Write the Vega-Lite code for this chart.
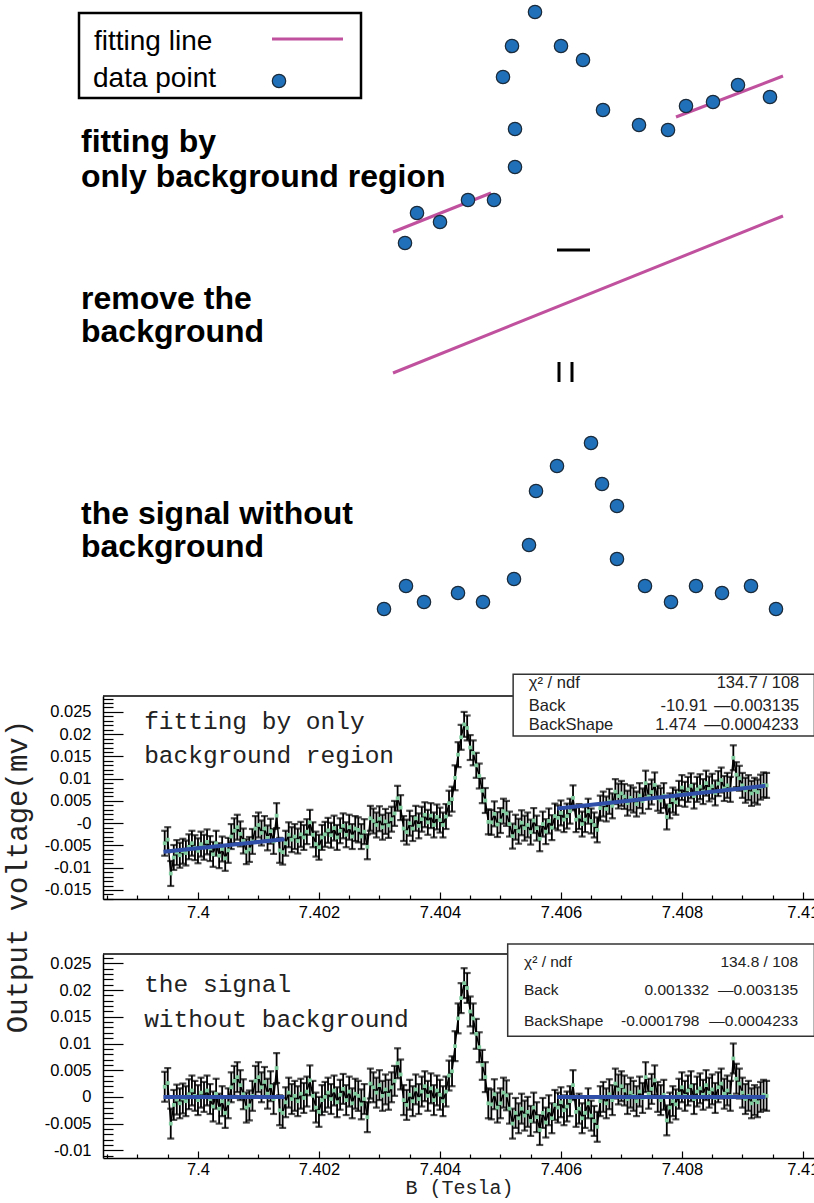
{
"$schema": "https://vega.github.io/schema/vega-lite/v6.json",
"background": "white",
"padding": {"left": 2, "top": 0, "right": 0, "bottom": 0},
"bounds": "flush",
"spacing": 55,
"config": {"view": {"stroke": null}, "axis": {"labelFont": "Liberation Sans", "labelFontSize": 16.5, "labelColor": "black", "labelOverlap": false, "labelFlush": false}},
"datasets": {
"legendBox": [{"x": 78, "y": 13, "x2": 360, "y2": 98}],
"pinkLines": [{"seg": "a", "x": 392, "y": 232}, {"seg": "a", "x": 490, "y": 193}, {"seg": "b", "x": 675, "y": 117}, {"seg": "b", "x": 782, "y": 76}, {"seg": "c", "x": 392, "y": 373}, {"seg": "c", "x": 782, "y": 216}, {"seg": "leg", "x": 271, "y": 39}, {"seg": "leg", "x": 342, "y": 39}],
"signs": [{"x": 556, "y": 250, "x2": 589, "y2": 250}, {"x": 558, "y": 362, "x2": 558, "y2": 382}, {"x": 571, "y": 362, "x2": 571, "y2": 382}],
"dots": [{"x": 278, "y": 81}, {"x": 404, "y": 243}, {"x": 416, "y": 213}, {"x": 439, "y": 222}, {"x": 467, "y": 200}, {"x": 493, "y": 200}, {"x": 514, "y": 167}, {"x": 514, "y": 129}, {"x": 502, "y": 77}, {"x": 511, "y": 46}, {"x": 534, "y": 12}, {"x": 560, "y": 46}, {"x": 582, "y": 60}, {"x": 602, "y": 110}, {"x": 638, "y": 125}, {"x": 667, "y": 130}, {"x": 685, "y": 106}, {"x": 712, "y": 102}, {"x": 737, "y": 85}, {"x": 769, "y": 97}, {"x": 383, "y": 609}, {"x": 405, "y": 586}, {"x": 423, "y": 602}, {"x": 457, "y": 593}, {"x": 482, "y": 602}, {"x": 513, "y": 579}, {"x": 528, "y": 545}, {"x": 535, "y": 491}, {"x": 556, "y": 466}, {"x": 590, "y": 443}, {"x": 601, "y": 484}, {"x": 616, "y": 506}, {"x": 616, "y": 559}, {"x": 644, "y": 586}, {"x": 670, "y": 602}, {"x": 695, "y": 586}, {"x": 721, "y": 593}, {"x": 750, "y": 586}, {"x": 775, "y": 609}],
"legendText": [{"x": 93, "y": 50, "t": "fitting line"}, {"x": 92, "y": 87, "t": "data point"}],
"labels": [{"x": 80, "y": 152, "t": "fitting by"}, {"x": 80, "y": 187, "t": "only background region"}, {"x": 80, "y": 309, "t": "remove the"}, {"x": 80, "y": 342, "t": "background"}, {"x": 80, "y": 524, "t": "the signal without"}, {"x": 80, "y": 557, "t": "background"}],
"scan": [
{"B":7.39945,"v1":-0.0045,"v2":0.0019,"e":0.0028},
{"B":7.3995,"v1":-0.0037,"v2":0.0026,"e":0.0028},
{"B":7.39955,"v1":-0.0113,"v2":-0.005,"e":0.0028},
{"B":7.3996,"v1":-0.0077,"v2":-0.0015,"e":0.0028},
{"B":7.39965,"v1":-0.0066,"v2":-0.0005,"e":0.0028},
{"B":7.3997,"v1":-0.0072,"v2":-0.0012,"e":0.0028},
{"B":7.39975,"v1":-0.0063,"v2":-0.0003,"e":0.0028},
{"B":7.3998,"v1":-0.0067,"v2":-0.0008,"e":0.0028},
{"B":7.39985,"v1":-0.0053,"v2":0.0005,"e":0.0028},
{"B":7.3999,"v1":-0.0045,"v2":0.0012,"e":0.0028},
{"B":7.39995,"v1":-0.0055,"v2":0.0002,"e":0.0028},
{"B":7.4,"v1":-0.0062,"v2":-0.0006,"e":0.0028},
{"B":7.40005,"v1":-0.0047,"v2":0.0008,"e":0.0028},
{"B":7.4001,"v1":-0.0054,"v2":0,"e":0.0028},
{"B":7.40015,"v1":-0.0042,"v2":0.0012,"e":0.0028},
{"B":7.4002,"v1":-0.0057,"v2":-0.0004,"e":0.0028},
{"B":7.40025,"v1":-0.007,"v2":-0.0018,"e":0.0028},
{"B":7.4003,"v1":-0.0045,"v2":0.0006,"e":0.0028},
{"B":7.40035,"v1":-0.0073,"v2":-0.0022,"e":0.0028},
{"B":7.4004,"v1":-0.0058,"v2":-0.0008,"e":0.0028},
{"B":7.40045,"v1":-0.0079,"v2":-0.003,"e":0.0028},
{"B":7.4005,"v1":-0.0061,"v2":-0.0012,"e":0.0028},
{"B":7.40055,"v1":-0.003,"v2":0.0018,"e":0.0028},
{"B":7.4006,"v1":-0.0017,"v2":0.003,"e":0.0028},
{"B":7.40065,"v1":-0.0009,"v2":0.0037,"e":0.0028},
{"B":7.4007,"v1":-0.0024,"v2":0.0022,"e":0.0028},
{"B":7.40075,"v1":-0.004,"v2":0.0005,"e":0.0028},
{"B":7.4008,"v1":-0.0064,"v2":-0.002,"e":0.0028},
{"B":7.40085,"v1":-0.0059,"v2":-0.0016,"e":0.0028},
{"B":7.4009,"v1":-0.0041,"v2":0.0002,"e":0.0028},
{"B":7.40095,"v1":-0.0012,"v2":0.003,"e":0.0028},
{"B":7.401,"v1":-0.0004,"v2":0.0037,"e":0.0028},
{"B":7.40105,"v1":-0.0022,"v2":0.0018,"e":0.0028},
{"B":7.4011,"v1":-0.0012,"v2":0.0028,"e":0.0028},
{"B":7.40115,"v1":-0.0033,"v2":0.0006,"e":0.0028},
{"B":7.4012,"v1":-0.0018,"v2":0.002,"e":0.0028},
{"B":7.40125,"v1":-0.0041,"v2":-0.0004,"e":0.0028},
{"B":7.4013,"v1":0.0017,"v2":0.0054,"e":0.0028},
{"B":7.40135,"v1":-0.0061,"v2":-0.0025,"e":0.0028},
{"B":7.4014,"v1":-0.0065,"v2":-0.003,"e":0.0028},
{"B":7.40145,"v1":-0.0045,"v2":-0.001,"e":0.0028},
{"B":7.4015,"v1":-0.0026,"v2":0.0008,"e":0.0028},
{"B":7.40155,"v1":-0.0037,"v2":-0.0004,"e":0.0028},
{"B":7.4016,"v1":-0.003,"v2":0.0002,"e":0.0028},
{"B":7.40165,"v1":-0.004,"v2":-0.0008,"e":0.0028},
{"B":7.4017,"v1":-0.0025,"v2":0.0006,"e":0.0028},
{"B":7.40175,"v1":-0.0032,"v2":-0.0002,"e":0.0028},
{"B":7.4018,"v1":-0.0019,"v2":0.001,"e":0.0028},
{"B":7.40185,"v1":0.0002,"v2":0.0031,"e":0.0028},
{"B":7.4019,"v1":-0.0026,"v2":0.0002,"e":0.0028},
{"B":7.40195,"v1":-0.0047,"v2":-0.002,"e":0.0028},
{"B":7.402,"v1":-0.0054,"v2":-0.0028,"e":0.0028},
{"B":7.40205,"v1":-0.0032,"v2":-0.0006,"e":0.0028},
{"B":7.4021,"v1":-0.0025,"v2":0,"e":0.0028},
{"B":7.40215,"v1":-0.0016,"v2":0.0008,"e":0.0028},
{"B":7.4022,"v1":-0.0027,"v2":-0.0004,"e":0.0028},
{"B":7.40225,"v1":-0.0011,"v2":0.0012,"e":0.0028},
{"B":7.4023,"v1":-0.0032,"v2":-0.001,"e":0.0028},
{"B":7.40235,"v1":-0.0017,"v2":0.0004,"e":0.0028},
{"B":7.4024,"v1":-0.0006,"v2":0.0015,"e":0.0028},
{"B":7.40245,"v1":-0.0026,"v2":-0.0006,"e":0.0028},
{"B":7.4025,"v1":-0.0009,"v2":0.001,"e":0.0028},
{"B":7.40255,"v1":-0.003,"v2":-0.0012,"e":0.0028},
{"B":7.4026,"v1":-0.0012,"v2":0.0006,"e":0.0028},
{"B":7.40265,"v1":-0.0015,"v2":0.0002,"e":0.0028},
{"B":7.4027,"v1":-0.003,"v2":-0.0014,"e":0.0028},
{"B":7.40275,"v1":-0.0019,"v2":-0.0004,"e":0.0028},
{"B":7.4028,"v1":-0.0053,"v2":-0.0038,"e":0.0028},
{"B":7.40285,"v1":0.0011,"v2":0.0025,"e":0.0028},
{"B":7.4029,"v1":0.0005,"v2":0.0018,"e":0.0028},
{"B":7.40295,"v1":-0.0004,"v2":0.0008,"e":0.0028},
{"B":7.403,"v1":0.001,"v2":0.0022,"e":0.0028},
{"B":7.40305,"v1":-0.0009,"v2":0.0002,"e":0.0028},
{"B":7.4031,"v1":0.0004,"v2":0.0014,"e":0.0028},
{"B":7.40315,"v1":-0.0005,"v2":0.0004,"e":0.0028},
{"B":7.4032,"v1":0.0009,"v2":0.0018,"e":0.0028},
{"B":7.40325,"v1":0.0022,"v2":0.003,"e":0.0028},
{"B":7.4033,"v1":0.0056,"v2":0.0063,"e":0.0028},
{"B":7.40335,"v1":0.0035,"v2":0.0042,"e":0.0028},
{"B":7.4034,"v1":-0.0012,"v2":-0.0006,"e":0.0028},
{"B":7.40345,"v1":-0.002,"v2":-0.0015,"e":0.0028},
{"B":7.4035,"v1":0,"v2":0.0004,"e":0.0028},
{"B":7.40355,"v1":-0.0012,"v2":-0.0008,"e":0.0028},
{"B":7.4036,"v1":0.0011,"v2":0.0014,"e":0.0028},
{"B":7.40365,"v1":-0.0006,"v2":-0.0004,"e":0.0028},
{"B":7.4037,"v1":0.0009,"v2":0.001,"e":0.0028},
{"B":7.40375,"v1":0.0019,"v2":0.002,"e":0.0028},
{"B":7.4038,"v1":0.0002,"v2":0.0002,"e":0.0028},
{"B":7.40385,"v1":0.0017,"v2":0.0016,"e":0.0028},
{"B":7.4039,"v1":-0.0004,"v2":-0.0006,"e":0.0028},
{"B":7.40395,"v1":0.0014,"v2":0.0012,"e":0.0028},
{"B":7.404,"v1":0.0007,"v2":0.0004,"e":0.0028},
{"B":7.40405,"v1":-0.0004,"v2":-0.0008,"e":0.0028},
{"B":7.4041,"v1":0.0015,"v2":0.001,"e":0.0028},
{"B":7.40415,"v1":0.0045,"v2":0.004,"e":0.0028},
{"B":7.4042,"v1":0.0054,"v2":0.0048,"e":0.0028},
{"B":7.40425,"v1":0.0102,"v2":0.0095,"e":0.0028},
{"B":7.4043,"v1":0.0154,"v2":0.0147,"e":0.0028},
{"B":7.40435,"v1":0.0193,"v2":0.0185,"e":0.0028},
{"B":7.4044,"v1":0.0222,"v2":0.0213,"e":0.0028},
{"B":7.40445,"v1":0.0214,"v2":0.0204,"e":0.0028},
{"B":7.4045,"v1":0.017,"v2":0.016,"e":0.0028},
{"B":7.40455,"v1":0.0158,"v2":0.0147,"e":0.0028},
{"B":7.4046,"v1":0.013,"v2":0.0118,"e":0.0028},
{"B":7.40465,"v1":0.0106,"v2":0.0093,"e":0.0028},
{"B":7.4047,"v1":0.0073,"v2":0.006,"e":0.0028},
{"B":7.40475,"v1":0.0051,"v2":0.0037,"e":0.0028},
{"B":7.4048,"v1":0.0003,"v2":-0.0012,"e":0.0028},
{"B":7.40485,"v1":0.0002,"v2":-0.0014,"e":0.0028},
{"B":7.4049,"v1":0.0021,"v2":0.0005,"e":0.0028},
{"B":7.40495,"v1":-0.0003,"v2":-0.002,"e":0.0028},
{"B":7.405,"v1":0.0006,"v2":-0.0012,"e":0.0028},
{"B":7.40505,"v1":0.0027,"v2":0.0008,"e":0.0028},
{"B":7.4051,"v1":0.0022,"v2":0.0003,"e":0.0028},
{"B":7.40515,"v1":-0.0002,"v2":-0.0022,"e":0.0028},
{"B":7.4052,"v1":-0.0029,"v2":-0.005,"e":0.0028},
{"B":7.40525,"v1":-0.0009,"v2":-0.003,"e":0.0028},
{"B":7.4053,"v1":-0.0018,"v2":-0.004,"e":0.0028},
{"B":7.40535,"v1":0.0001,"v2":-0.0022,"e":0.0028},
{"B":7.4054,"v1":-0.0011,"v2":-0.0035,"e":0.0028},
{"B":7.40545,"v1":-0.0004,"v2":-0.0028,"e":0.0028},
{"B":7.4055,"v1":-0.002,"v2":-0.0045,"e":0.0028},
{"B":7.40555,"v1":0.0006,"v2":-0.002,"e":0.0028},
{"B":7.4056,"v1":-0.0011,"v2":-0.0038,"e":0.0028},
{"B":7.40565,"v1":-0.0035,"v2":-0.0062,"e":0.0028},
{"B":7.4057,"v1":-0.0002,"v2":-0.003,"e":0.0028},
{"B":7.40575,"v1":-0.0019,"v2":-0.0048,"e":0.0028},
{"B":7.4058,"v1":0.0005,"v2":-0.0025,"e":0.0028},
{"B":7.40585,"v1":-0.001,"v2":-0.004,"e":0.0028},
{"B":7.4059,"v1":0.0016,"v2":-0.0015,"e":0.0028},
{"B":7.40595,"v1":0.0012,"v2":-0.002,"e":0.0028},
{"B":7.406,"v1":0.0023,"v2":-0.001,"e":0.0028},
{"B":7.40605,"v1":0.0008,"v2":-0.0025,"e":0.0028},
{"B":7.4061,"v1":0.0016,"v2":-0.0018,"e":0.0028},
{"B":7.40615,"v1":0.0027,"v2":-0.0008,"e":0.0028},
{"B":7.4062,"v1":0.0057,"v2":0.0022,"e":0.0028},
{"B":7.40625,"v1":0.0008,"v2":-0.0028,"e":0.0028},
{"B":7.4063,"v1":0.0015,"v2":-0.0022,"e":0.0028},
{"B":7.40635,"v1":-0.0002,"v2":-0.004,"e":0.0028},
{"B":7.4064,"v1":0.0008,"v2":-0.003,"e":0.0028},
{"B":7.40645,"v1":0.0027,"v2":-0.0012,"e":0.0028},
{"B":7.4065,"v1":0.0005,"v2":-0.0035,"e":0.0028},
{"B":7.40655,"v1":-0.0004,"v2":-0.0045,"e":0.0028},
{"B":7.4066,"v1":-0.0015,"v2":-0.0056,"e":0.0028},
{"B":7.40665,"v1":0.0034,"v2":-0.0008,"e":0.0028},
{"B":7.4067,"v1":0.0043,"v2":0,"e":0.0028},
{"B":7.40675,"v1":0.0032,"v2":-0.0012,"e":0.0028},
{"B":7.4068,"v1":0.0049,"v2":0.0005,"e":0.0028},
{"B":7.40685,"v1":0.0039,"v2":-0.0006,"e":0.0028},
{"B":7.4069,"v1":0.0071,"v2":0.0025,"e":0.0028},
{"B":7.40695,"v1":0.0061,"v2":0.0014,"e":0.0028},
{"B":7.407,"v1":0.0067,"v2":0.002,"e":0.0028},
{"B":7.40705,"v1":0.006,"v2":0.0012,"e":0.0028},
{"B":7.4071,"v1":0.0045,"v2":-0.0004,"e":0.0028},
{"B":7.40715,"v1":0.0057,"v2":0.0008,"e":0.0028},
{"B":7.4072,"v1":0.0052,"v2":0.0002,"e":0.0028},
{"B":7.40725,"v1":0.0043,"v2":-0.0008,"e":0.0028},
{"B":7.4073,"v1":0.0062,"v2":0.001,"e":0.0028},
{"B":7.40735,"v1":0.005,"v2":-0.0002,"e":0.0028},
{"B":7.4074,"v1":0.009,"v2":0.0037,"e":0.0028},
{"B":7.40745,"v1":0.006,"v2":0.0006,"e":0.0028},
{"B":7.4075,"v1":0.007,"v2":0.0015,"e":0.0028},
{"B":7.40755,"v1":0.0086,"v2":0.0031,"e":0.0028},
{"B":7.4076,"v1":0.0056,"v2":0,"e":0.0028},
{"B":7.40765,"v1":0.0051,"v2":-0.0006,"e":0.0028},
{"B":7.4077,"v1":0.0062,"v2":0.0004,"e":0.0028},
{"B":7.40775,"v1":0.0014,"v2":-0.0044,"e":0.0028},
{"B":7.4078,"v1":0.0039,"v2":-0.002,"e":0.0028},
{"B":7.40785,"v1":0.0052,"v2":-0.0008,"e":0.0028},
{"B":7.4079,"v1":0.0047,"v2":-0.0014,"e":0.0028},
{"B":7.40795,"v1":0.0067,"v2":0.0006,"e":0.0028},
{"B":7.408,"v1":0.008,"v2":0.0018,"e":0.0028},
{"B":7.40805,"v1":0.0065,"v2":0.0002,"e":0.0028},
{"B":7.4081,"v1":0.0076,"v2":0.0012,"e":0.0028},
{"B":7.40815,"v1":0.0084,"v2":0.002,"e":0.0028},
{"B":7.4082,"v1":0.0061,"v2":-0.0004,"e":0.0028},
{"B":7.40825,"v1":0.0076,"v2":0.001,"e":0.0028},
{"B":7.4083,"v1":0.0082,"v2":0.0016,"e":0.0028},
{"B":7.40835,"v1":0.0071,"v2":0.0004,"e":0.0028},
{"B":7.4084,"v1":0.009,"v2":0.0022,"e":0.0028},
{"B":7.40845,"v1":0.0077,"v2":0.0008,"e":0.0028},
{"B":7.4085,"v1":0.0083,"v2":0.0014,"e":0.0028},
{"B":7.40855,"v1":0.0068,"v2":-0.0002,"e":0.0028},
{"B":7.4086,"v1":0.0089,"v2":0.0018,"e":0.0028},
{"B":7.40865,"v1":0.0097,"v2":0.0025,"e":0.0028},
{"B":7.4087,"v1":0.0078,"v2":0.0006,"e":0.0028},
{"B":7.40875,"v1":0.0085,"v2":0.0012,"e":0.0028},
{"B":7.4088,"v1":0.0076,"v2":0.0002,"e":0.0028},
{"B":7.40885,"v1":0.0147,"v2":0.0072,"e":0.0028},
{"B":7.4089,"v1":0.0109,"v2":0.0034,"e":0.0028},
{"B":7.40895,"v1":0.0101,"v2":0.0025,"e":0.0028},
{"B":7.409,"v1":0.0085,"v2":0.0008,"e":0.0028},
{"B":7.40905,"v1":0.0074,"v2":-0.0004,"e":0.0028},
{"B":7.4091,"v1":0.008,"v2":0.0002,"e":0.0028},
{"B":7.40915,"v1":0.0067,"v2":-0.0012,"e":0.0028},
{"B":7.4092,"v1":0.0074,"v2":-0.0006,"e":0.0028},
{"B":7.40925,"v1":0.007,"v2":-0.001,"e":0.0028},
{"B":7.4093,"v1":0.0081,"v2":0,"e":0.0028},
{"B":7.40935,"v1":0.0086,"v2":0.0004,"e":0.0028},
{"B":7.4094,"v1":0.0085,"v2":0.0002,"e":0.0028}
],
"fit": [{"seg": "L", "B": 7.39943, "v1": -0.0064, "v2": 0}, {"seg": "L", "B": 7.40143, "v1": -0.0036, "v2": 0}, {"seg": "R", "B": 7.40594, "v1": 0.0033, "v2": 0}, {"seg": "R", "B": 7.40938, "v1": 0.0084, "v2": 0}],
"frame1": [{"B": 7.39843, "B2": 7.40521, "v1": 0.02858}],
"frame2": [{"B": 7.39843, "B2": 7.40512, "v2": 0.02676}],
"box1": [{"B": 7.40521, "B2": 7.41019, "v1": 0.03345, "v1b": 0.01961}],
"box2": [{"B": 7.40512, "B2": 7.41019, "v2": 0.02863, "v2b": 0.01138}],
"stat1L": [{"B": 7.40547, "v1": 0.03143, "t": "χ² / ndf"}, {"B": 7.40547, "v1": 0.02627, "t": "Back"}, {"B": 7.40547, "v1": 0.02201, "t": "BackShape"}],
"stat1R": [{"B": 7.40994, "v1": 0.03143, "t": "134.7 / 108"}, {"B": 7.40842, "v1": 0.02627, "t": "-10.91"}, {"B": 7.40994, "v1": 0.02627, "t": "—0.003135"}, {"B": 7.40824, "v1": 0.02201, "t": "1.474"}, {"B": 7.40993, "v1": 0.02201, "t": "—0.0004233"}],
"stat2L": [{"B": 7.40539, "v2": 0.02526, "t": "χ² / ndf"}, {"B": 7.40539, "v2": 0.02001, "t": "Back"}, {"B": 7.40539, "v2": 0.01419, "t": "BackShape"}],
"stat2R": [{"B": 7.40992, "v2": 0.02526, "t": "134.8 / 108"}, {"B": 7.40845, "v2": 0.02001, "t": "0.001332"}, {"B": 7.40992, "v2": 0.02001, "t": "—0.003135"}, {"B": 7.40829, "v2": 0.01419, "t": "-0.0001798"}, {"B": 7.40992, "v2": 0.01419, "t": "—0.0004233"}],
"note1": [{"B": 7.39911, "v1": 0.02268, "t": "fitting by only"}, {"B": 7.39911, "v1": 0.01505, "t": "background region"}],
"note2": [{"B": 7.39911, "v2": 0.02095, "t": "the signal"}, {"B": 7.39911, "v2": 0.01438, "t": "without background"}]
},
"vconcat": [
{
"width": 712, "height": 641,
"encoding": {
"x": {"field": "x", "type": "quantitative", "scale": {"domain": [102, 814], "nice": false, "zero": false}, "axis": null},
"y": {"field": "y", "type": "quantitative", "scale": {"domain": [0, 641], "nice": false, "zero": false, "reverse": true}, "axis": null}
},
"layer": [
{"data": {"name": "legendBox"}, "mark": {"type": "rect", "fill": "white", "stroke": "black", "strokeWidth": 2.5}, "encoding": {"x2": {"field": "x2"}, "y2": {"field": "y2"}}},
{"data": {"name": "pinkLines"}, "mark": {"type": "line", "color": "#c0519e", "strokeWidth": 3}, "encoding": {"detail": {"field": "seg"}}},
{"data": {"name": "signs"}, "mark": {"type": "rule", "color": "black", "strokeWidth": 3}, "encoding": {"x2": {"field": "x2"}, "y2": {"field": "y2"}}},
{"data": {"name": "dots"}, "mark": {"type": "circle", "size": 180, "color": "#1f70b8", "opacity": 1, "stroke": "#1b2a3a", "strokeWidth": 1.2}},
{"data": {"name": "legendText"}, "mark": {"type": "text", "align": "left", "baseline": "alphabetic", "font": "Liberation Sans", "fontSize": 28, "color": "black"}, "encoding": {"text": {"field": "t"}}},
{"data": {"name": "labels"}, "mark": {"type": "text", "align": "left", "baseline": "alphabetic", "font": "Liberation Sans", "fontSize": 32, "fontWeight": "bold", "color": "black"}, "encoding": {"text": {"field": "t"}}}
]
},
{
"width": 712, "height": 203,
"encoding": {
"x": {"field": "B", "type": "quantitative", "scale": {"domain": [7.39843, 7.4102], "nice": false, "zero": false},
 "axis": {"title": null, "values": [7.3985, 7.399, 7.3995, 7.4, 7.4005, 7.401, 7.4015, 7.402, 7.4025, 7.403, 7.4035, 7.404, 7.4045, 7.405, 7.4055, 7.406, 7.4065, 7.407, 7.4075, 7.408, 7.4085, 7.409, 7.4095, 7.41],
  "labelExpr": "abs(datum.value*500 - round(datum.value*500)) < 0.001 ? '' + datum.value : ''",
  "ticks": false, "domain": true, "domainColor": "black", "domainWidth": 1.5, "labelPadding": 5,
  "grid": true, "gridColor": "black", "gridWidth": 1.2, "gridOpacity": 1,
  "gridDash": {"condition": {"test": "abs(datum.value*500 - round(datum.value*500)) < 0.001", "value": [0, 196, 7, 3000]}, "value": [0, 199, 4, 3000]}}},
"y": {"field": "v1", "type": "quantitative", "scale": {"domain": [-0.01703, 0.02858], "nice": false, "zero": false},
 "axis": {"title": null, "values": [-0.017, -0.016, -0.015, -0.014, -0.013, -0.012, -0.011, -0.01, -0.009, -0.008, -0.007, -0.006, -0.005, -0.004, -0.003, -0.002, -0.001, 0, 0.001, 0.002, 0.003, 0.004, 0.005, 0.006, 0.007, 0.008, 0.009, 0.01, 0.011, 0.012, 0.013, 0.014, 0.015, 0.016, 0.017, 0.018, 0.019, 0.02, 0.021, 0.022, 0.023, 0.024, 0.025, 0.026, 0.027, 0.028],
  "labelExpr": "abs(datum.value*200 - round(datum.value*200)) < 0.001 ? (datum.value == 0 ? '-0' : '' + datum.value) : ''",
  "ticks": false, "domain": true, "domainColor": "black", "domainWidth": 1.5, "labelPadding": 12,
  "grid": true, "gridColor": "black", "gridWidth": 1.2, "gridOpacity": 1,
  "gridDash": {"condition": {"test": "abs(datum.value*200 - round(datum.value*200)) < 0.001", "value": [20, 3000]}, "value": [10, 3000]}}}
},
"layer": [
{"data": {"name": "scan"}, "mark": {"type": "errorbar", "ticks": {"size": 7, "thickness": 2.2, "color": "#000000"}, "thickness": 1.8, "color": "#000000"}, "encoding": {"yError": {"field": "e"}}},
{"data": {"name": "scan"}, "mark": {"type": "line", "color": "#000000", "strokeWidth": 1.5}},
{"data": {"name": "scan"}, "mark": {"type": "square", "size": 14, "color": "#80cc9f", "opacity": 1}},
{"data": {"name": "fit"}, "mark": {"type": "line", "color": "#2f4fa8", "strokeWidth": 4}, "encoding": {"detail": {"field": "seg"}}},
{"data": {"name": "frame1"}, "mark": {"type": "rule", "color": "black", "strokeWidth": 1.5}, "encoding": {"x2": {"field": "B2"}}},
{"data": {"name": "box1"}, "mark": {"type": "rect", "fill": "white", "stroke": "#333333", "strokeWidth": 1.5}, "encoding": {"x2": {"field": "B2"}, "y2": {"field": "v1b"}}},
{"data": {"name": "stat1L"}, "mark": {"type": "text", "align": "left", "baseline": "middle", "font": "Liberation Sans", "fontSize": 16.5, "color": "#222222"}, "encoding": {"text": {"field": "t"}}},
{"data": {"name": "stat1R"}, "mark": {"type": "text", "align": "right", "baseline": "middle", "font": "Liberation Sans", "fontSize": 16.5, "color": "#222222"}, "encoding": {"text": {"field": "t"}}},
{"data": {"name": "note1"}, "mark": {"type": "text", "align": "left", "baseline": "middle", "font": "Liberation Mono", "fontSize": 24.5, "color": "#222222"}, "encoding": {"text": {"field": "t"}}}
]
},
{
"width": 712, "height": 204,
"encoding": {
"x": {"field": "B", "type": "quantitative", "scale": {"domain": [7.39843, 7.4102], "nice": false, "zero": false},
 "axis": {"title": "B (Tesla)", "titleFont": "Liberation Mono", "titleFontSize": 20, "titleFontWeight": "normal", "titleColor": "#222222", "titlePadding": 0,
  "values": [7.3985, 7.399, 7.3995, 7.4, 7.4005, 7.401, 7.4015, 7.402, 7.4025, 7.403, 7.4035, 7.404, 7.4045, 7.405, 7.4055, 7.406, 7.4065, 7.407, 7.4075, 7.408, 7.4085, 7.409, 7.4095, 7.41],
  "labelExpr": "abs(datum.value*500 - round(datum.value*500)) < 0.001 ? '' + datum.value : ''",
  "ticks": false, "domain": true, "domainColor": "black", "domainWidth": 1.5, "labelPadding": 3,
  "grid": true, "gridColor": "black", "gridWidth": 1.2, "gridOpacity": 1,
  "gridDash": {"condition": {"test": "abs(datum.value*500 - round(datum.value*500)) < 0.001", "value": [0, 197, 7, 3000]}, "value": [0, 200, 4, 3000]}}},
"y": {"field": "v2", "type": "quantitative", "scale": {"domain": [-0.01144, 0.02676], "nice": false, "zero": false},
 "axis": {"title": "Output voltage(mv)", "titleFont": "Liberation Mono", "titleFontSize": 29, "titleFontWeight": "normal", "titleColor": "#222222", "titleAngle": 270, "titleBaseline": "alphabetic", "titleAlign": "center", "titleX": -77, "titleY": -78,
  "values": [-0.011, -0.01, -0.009, -0.008, -0.007, -0.006, -0.005, -0.004, -0.003, -0.002, -0.001, 0, 0.001, 0.002, 0.003, 0.004, 0.005, 0.006, 0.007, 0.008, 0.009, 0.01, 0.011, 0.012, 0.013, 0.014, 0.015, 0.016, 0.017, 0.018, 0.019, 0.02, 0.021, 0.022, 0.023, 0.024, 0.025, 0.026],
  "labelExpr": "abs(datum.value*200 - round(datum.value*200)) < 0.001 ? '' + datum.value : ''",
  "ticks": false, "domain": true, "domainColor": "black", "domainWidth": 1.5, "labelPadding": 12,
  "grid": true, "gridColor": "black", "gridWidth": 1.2, "gridOpacity": 1,
  "gridDash": {"condition": {"test": "abs(datum.value*200 - round(datum.value*200)) < 0.001", "value": [20, 3000]}, "value": [10, 3000]}}}
},
"layer": [
{"data": {"name": "scan"}, "mark": {"type": "errorbar", "ticks": {"size": 7, "thickness": 2.2, "color": "#000000"}, "thickness": 1.8, "color": "#000000"}, "encoding": {"yError": {"field": "e"}}},
{"data": {"name": "scan"}, "mark": {"type": "line", "color": "#000000", "strokeWidth": 1.5}},
{"data": {"name": "scan"}, "mark": {"type": "square", "size": 14, "color": "#80cc9f", "opacity": 1}},
{"data": {"name": "fit"}, "mark": {"type": "line", "color": "#2f4fa8", "strokeWidth": 4}, "encoding": {"detail": {"field": "seg"}}},
{"data": {"name": "frame2"}, "mark": {"type": "rule", "color": "black", "strokeWidth": 1.5}, "encoding": {"x2": {"field": "B2"}}},
{"data": {"name": "box2"}, "mark": {"type": "rect", "fill": "white", "stroke": "#333333", "strokeWidth": 1.5}, "encoding": {"x2": {"field": "B2"}, "y2": {"field": "v2b"}}},
{"data": {"name": "stat2L"}, "mark": {"type": "text", "align": "left", "baseline": "middle", "font": "Liberation Sans", "fontSize": 15.5, "color": "#222222"}, "encoding": {"text": {"field": "t"}}},
{"data": {"name": "stat2R"}, "mark": {"type": "text", "align": "right", "baseline": "middle", "font": "Liberation Sans", "fontSize": 15.5, "color": "#222222"}, "encoding": {"text": {"field": "t"}}},
{"data": {"name": "note2"}, "mark": {"type": "text", "align": "left", "baseline": "middle", "font": "Liberation Mono", "fontSize": 24.5, "color": "#222222"}, "encoding": {"text": {"field": "t"}}}
]
}
]
}
